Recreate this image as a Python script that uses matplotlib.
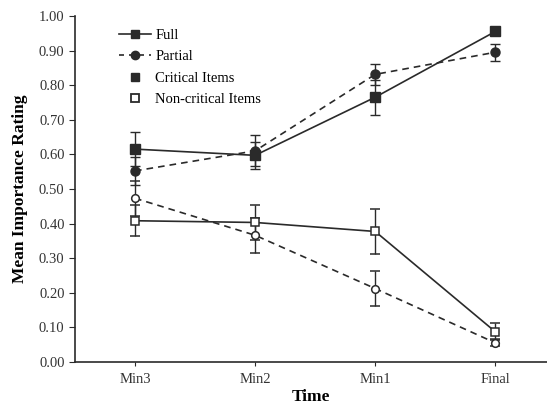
import matplotlib
matplotlib.use("Agg")
import matplotlib.pyplot as plt
from matplotlib.lines import Line2D

plt.rcParams['font.family'] = ['Liberation Serif', 'DejaVu Serif']

times = ["Min3", "Min2", "Min1", "Final"]
full_crit = [0.615, 0.597, 0.765, 0.955]
full_crit_err = [0.05, 0.04, 0.05, 0.01]
part_crit = [0.552, 0.610, 0.831, 0.895]
part_crit_err = [0.04, 0.045, 0.03, 0.025]
full_non = [0.408, 0.403, 0.377, 0.087]
full_non_err = [0.045, 0.05, 0.064, 0.025]
part_non = [0.473, 0.366, 0.212, 0.055]
part_non_err = [0.05, 0.05, 0.05, 0.01]

col = "#2a2a2a"
x = list(range(len(times)))

fig = plt.figure(figsize=(5.47, 4.08), dpi=100)
ax = fig.add_axes([0.137, 0.113, 0.863, 0.848])

common = dict(color=col, ecolor=col, elinewidth=1.0, capsize=3.5, capthick=1.0, lw=1.2)
ax.errorbar(x, full_crit, yerr=full_crit_err, fmt='s-', ms=7, mfc=col, mec=col, **common)
ax.errorbar(x, part_crit, yerr=part_crit_err, fmt='o--', ms=6.5, mfc=col, mec=col, dashes=(4, 3), **common)
ax.errorbar(x, full_non, yerr=full_non_err, fmt='s-', ms=5.5, mfc='white', mec=col, mew=1.1, **common)
ax.errorbar(x, part_non, yerr=part_non_err, fmt='o--', ms=5.5, mfc='white', mec=col, mew=1.1, dashes=(4, 3), **common)

ax.set_xlim(-0.5, 3.43)
ax.set_ylim(0, 1.0)
ax.set_yticks([i / 10 for i in range(11)])
ax.set_yticklabels([f"{i/10:.2f}" for i in range(11)])
ax.set_xticks(x)
ax.set_xticklabels(times)
for s in ['top', 'right']:
    ax.spines[s].set_visible(False)
for s in ['left', 'bottom']:
    ax.spines[s].set_color(col)
    ax.spines[s].set_linewidth(1.2)
ax.tick_params(axis='y', direction='out', length=4, colors=col, labelsize=10.5, labelcolor='#333333')
ax.tick_params(axis='x', direction='out', length=3, colors=col, labelsize=10.5, labelcolor='#333333', pad=5)

ax.set_ylabel("Mean Importance Rating", fontsize=12.5, fontweight='bold', labelpad=8)
ax.set_xlabel("Time", fontsize=12.5, fontweight='bold', labelpad=2)

handles = [
    Line2D([], [], color=col, ls='-', marker='s', ms=6, lw=1.2),
    Line2D([], [], color=col, ls='--', marker='o', ms=6, lw=1.2, dashes=(3, 3)),
    Line2D([], [], color=col, ls='none', marker='s', ms=6),
    Line2D([], [], color=col, ls='none', marker='s', ms=6, mfc='white', mew=1.3),
]
labels = ["Full", "Partial", "Critical Items", "Non-critical Items"]
ax.legend(handles, labels, loc='upper left', bbox_to_anchor=(0.065, 1.0), frameon=False,
          fontsize=10.5, handlelength=2.2, labelspacing=0.55, handletextpad=0.3)

fig.savefig("out.png", dpi=100)
